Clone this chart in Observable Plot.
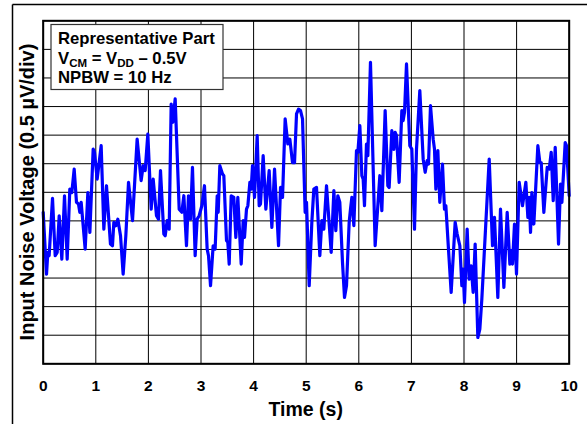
<!DOCTYPE html>
<html>
<head>
<meta charset="utf-8">
<script src="https://cdn.jsdelivr.net/npm/d3@7"></script>
<script src="https://cdn.jsdelivr.net/npm/@observablehq/plot@0.6"></script>
<style>
  html, body { margin: 0; padding: 0; background: #fff; }
  #chart { width: 587px; height: 424px; }
</style>
</head>
<body>
<div id="chart"></div>
<script>
// Time (s)
const times = [
0.000,0.063,0.088,0.113,0.177,0.228,0.266,0.304,0.354,0.405,0.456,0.506,0.544,0.589,0.633,0.671,0.696,0.722,0.798,0.849,0.887,0.950,0.975,
1.026,1.102,1.153,1.203,1.279,1.317,1.343,1.381,1.419,1.470,1.520,1.571,1.622,1.698,1.786,1.862,1.901,1.939,1.989,
2.053,2.091,2.154,2.192,2.230,2.293,2.319,2.357,2.395,2.433,2.464,2.509,2.585,2.636,2.674,2.724,2.762,2.800,2.838,2.889,2.927,2.965,
3.016,3.066,3.117,3.143,3.181,3.231,3.269,3.308,3.327,3.358,3.409,3.434,3.485,3.510,3.536,3.574,3.624,3.662,3.700,3.764,3.802,3.827,3.865,3.891,3.929,3.954,3.979,
4.017,4.068,4.106,4.131,4.182,4.233,4.296,4.347,4.398,4.474,4.512,4.550,4.600,4.651,4.689,4.740,4.778,4.816,4.854,4.892,4.930,4.980,
5.006,5.057,5.107,5.145,5.196,5.259,5.297,5.335,5.386,5.475,5.526,5.563,5.601,5.639,5.690,5.728,5.766,5.817,5.842,5.868,5.906,5.956,5.982,
6.020,6.058,6.083,6.108,6.146,6.172,6.222,6.311,6.400,6.438,6.501,6.552,6.577,6.628,6.666,6.691,6.717,6.767,6.818,6.843,6.869,6.907,6.970,
7.008,7.059,7.097,7.160,7.224,7.262,7.300,7.325,7.363,7.414,7.439,7.465,7.503,7.540,7.591,7.629,7.655,7.705,7.756,7.832,7.870,7.921,7.959,7.984,
8.009,8.060,8.098,8.136,8.174,8.212,8.263,8.301,8.339,8.479,8.542,8.580,8.643,8.694,8.758,8.821,8.872,8.897,8.922,8.960,8.998,
9.049,9.112,9.176,9.214,9.239,9.265,9.290,9.328,9.404,9.442,9.468,9.518,9.582,9.620,9.658,9.696,9.734,9.797,9.835,9.861,9.924,9.949,10.000
];
// Noise voltage, in grid divisions (0.5 µV/div) above the bottom gridline
const noiseDiv = [
5.30,3.14,3.90,3.78,5.79,3.78,3.90,5.18,3.66,5.88,3.66,6.11,5.99,6.81,5.65,5.59,5.30,5.65,4.01,5.99,4.60,7.51,7.40,
6.46,7.63,4.71,6.23,4.19,4.13,4.95,4.83,5.06,4.48,3.14,4.48,6.35,5.01,7.86,6.41,6.93,6.76,8.04,
5.41,6.46,5.18,5.06,6.76,4.54,4.48,5.01,4.71,9.09,8.45,9.27,5.41,5.30,5.88,4.13,5.88,5.06,6.87,3.78,5.06,5.18,
5.53,6.23,4.01,3.78,2.73,4.13,4.01,5.88,5.30,6.93,6.64,6.58,4.31,4.25,3.49,5.88,5.82,4.42,5.82,3.49,5.01,4.42,5.41,5.53,6.35,6.11,6.93,
5.82,7.98,5.53,5.59,7.28,5.41,6.76,4.77,6.81,4.13,6.17,5.82,8.57,7.69,7.86,7.04,7.04,8.74,8.91,8.86,8.57,5.30,
5.65,2.73,4.95,6.11,6.17,3.78,5.01,4.71,6.23,3.90,6.06,4.66,5.88,5.65,3.55,2.32,2.73,4.95,5.41,5.82,4.83,7.46,7.40,
8.33,6.58,6.46,5.53,7.69,7.28,10.55,4.13,6.58,5.36,8.86,6.23,6.17,8.16,7.50,8.10,7.98,6.35,8.86,8.51,8.80,10.49,7.63,
7.51,4.71,7.51,9.56,7.16,6.70,7.11,6.99,9.03,7.86,7.51,6.11,7.46,5.65,6.99,5.41,5.53,4.01,2.50,4.95,4.54,4.13,2.73,3.31,
2.15,4.71,2.96,3.43,2.50,4.19,0.92,1.21,2.26,7.16,4.13,5.12,2.32,5.41,2.67,5.30,3.49,3.96,3.49,4.89,3.14,
6.35,5.53,6.35,5.12,5.82,4.60,5.99,4.89,7.63,7.04,7.04,5.30,6.87,6.81,7.40,5.71,7.57,4.19,6.29,5.65,7.74,7.63,5.88
];
const xTicks = [0,1,2,3,4,5,6,7,8,9,10];
const yGrid = [0,1,2,3,4,5,6,7,8,9,10,11,12];
const xLabel = "Time (s)";
const yLabel = "Input Noise Voltage (0.5 µV/div)";
const noteLine1 = "Representative Part";
const noteLine3 = "NPBW = 10 Hz";

const data = times.map((t, i) => ({t, v: noiseDiv[i]}));
const FONT = "'Liberation Sans', Arial, Helvetica, sans-serif";

const chart = Plot.plot({
  width: 587,
  height: 424,
  marginLeft: 42.7,
  marginRight: 18.3,
  marginTop: 20.3,
  marginBottom: 60.7,
  style: {fontFamily: FONT, background: "#fff", color: "#000"},
  x: {domain: [0, 10], label: null},
  y: {domain: [0, 12], label: null},
  marks: [
    Plot.gridX(xTicks, {stroke: "#000", strokeOpacity: 1, strokeWidth: 1}),
    Plot.gridY(yGrid, {stroke: "#000", strokeOpacity: 1, strokeWidth: 1}),
    Plot.line(data, {x: "t", y: "v", stroke: "#0000ff", strokeWidth: 3.2, strokeLinejoin: "round"}),
    Plot.frame({stroke: "#000", strokeWidth: 2}),
    Plot.axisX(xTicks, {tickSize: 0, tickPadding: 16, fontSize: 15.5, fontWeight: "bold", label: null, tickFormat: d => String(d)}),
    Plot.axisY({ticks: [], label: null})
  ]
});

const svg = d3.select(chart);
// outer figure border (left/top)
svg.append("line").attr("x1", 12.5).attr("y1", 4.5).attr("x2", 587).attr("y2", 4.5).attr("stroke", "#000").attr("stroke-width", 1.5);
svg.append("line").attr("x1", 12.5).attr("y1", 4.5).attr("x2", 12.5).attr("y2", 424).attr("stroke", "#000").attr("stroke-width", 1.5);

// axis titles
svg.append("text").attr("x", 305.7).attr("y", 416).attr("text-anchor", "middle")
  .attr("font-family", FONT).attr("font-weight", "bold").attr("font-size", 19.5).attr("fill", "#000").text(xLabel);
svg.append("text").attr("transform", "translate(33.5,192) rotate(-90)").attr("text-anchor", "middle")
  .attr("font-family", FONT).attr("font-weight", "bold").attr("font-size", 20).attr("fill", "#000").text(yLabel);

// annotation box
const g = svg.append("g");
g.append("rect").attr("x", 51).attr("y", 24.5).attr("width", 172).attr("height", 65)
  .attr("fill", "#fff").attr("stroke", "#333").attr("stroke-width", 1.2);
const tx = g.append("g").attr("font-family", FONT).attr("font-weight", "bold").attr("font-size", 16.7)
  .attr("fill", "#000").attr("text-anchor", "start");
tx.append("text").attr("x", 58).attr("y", 43.5).text(noteLine1);
const l2 = tx.append("text").attr("x", 58).attr("y", 64);
l2.append("tspan").text("V");
l2.append("tspan").attr("font-size", 11.5).attr("dy", 3).text("CM");
l2.append("tspan").attr("dy", -3).text(" = V");
l2.append("tspan").attr("font-size", 11.5).attr("dy", 3).text("DD");
l2.append("tspan").attr("dy", -3).text(" \u2013 0.5V");
tx.append("text").attr("x", 58).attr("y", 83).text(noteLine3);

document.getElementById("chart").appendChild(chart);
</script>
</body>
</html>
